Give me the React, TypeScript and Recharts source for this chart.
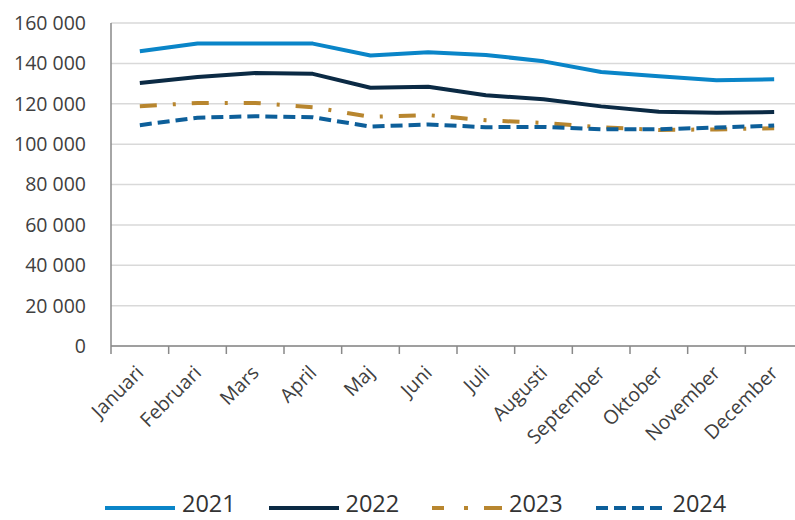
import React from 'react';
import { LineChart, Line, XAxis, YAxis, CartesianGrid, Legend } from 'recharts';

const months = ['Januari', 'Februari', 'Mars', 'April', 'Maj', 'Juni', 'Juli', 'Augusti', 'September', 'Oktober', 'November', 'December'];
const y2021 = [146000, 149800, 149800, 149800, 143900, 145500, 144200, 141000, 135700, 133600, 131700, 132100];
const y2022 = [130300, 133200, 135200, 134800, 127900, 128400, 124200, 122200, 118700, 116000, 115500, 115900];
const y2023 = [118800, 120400, 120400, 118300, 113500, 114400, 111800, 110500, 108400, 107000, 107300, 107900];
const y2024 = [109400, 113100, 113800, 113300, 108700, 109700, 108400, 108500, 107300, 107400, 108200, 109200];
const yTicks = [0, 20000, 40000, 60000, 80000, 100000, 120000, 140000, 160000];

const seriesNames = ['2021', '2022', '2023', '2024'];
const seriesColors = ['#0a85c8', '#0b2a44', '#b8862f', '#0d5f9a'];
const seriesDash = ['', '', '17 16 3 16', '12 6'];
const legendDash = ['', '', '12 20 4 16 18', '12 6'];

const data = months.map((m, i) => ({
  month: m,
  '2021': y2021[i],
  '2022': y2022[i],
  '2023': y2023[i],
  '2024': y2024[i],
}));

const fmt = (v: number) => String(v).replace(/\B(?=(\d{3})+(?!\d))/g, ' ');

const XTick = (props: any) => {
  const { x, y, payload } = props;
  const off = payload && payload.offset != null ? payload.offset : 0;
  const tx = x + 5;
  const ty = y + 28;
  return (
    <g>
      <line x1={x - off} x2={x - off} y1={y} y2={y + 8} stroke="#898989" strokeWidth={1.5} />
      <text
        x={tx}
        y={ty}
        textAnchor="end"
        fontSize={19.5}
        fill="#404040"
        fontFamily="'Open Sans', sans-serif"
        transform={`rotate(-45 ${tx} ${ty})`}
      >
        {payload.value}
      </text>
    </g>
  );
};

const LegendContent = () => (
  <div style={{ position: 'relative', height: 40, width: 795, fontFamily: "'Open Sans', sans-serif" }}>
    {seriesNames.map((name, i) => (
      <div
        key={name}
        style={{ position: 'absolute', left: 105 + i * 163.5, top: 0, height: 40, width: 160 }}
      >
        <svg width={72} height={40} style={{ position: 'absolute', left: 0, top: 0 }}>
          <line
            x1={0}
            x2={70}
            y1={28}
            y2={28}
            stroke={seriesColors[i]}
            strokeWidth={4}
            strokeDasharray={legendDash[i] || undefined}
          />
        </svg>
        <div
          style={{
            position: 'absolute',
            left: 77,
            top: 8,
            fontSize: 23.5,
            lineHeight: '31px',
            height: 31,
            color: '#333',
            whiteSpace: 'nowrap',
          }}
        >
          {name}
        </div>
      </div>
    ))}
  </div>
);

export default function App() {
  return (
    <div
      style={{
        position: 'absolute',
        left: 0,
        top: 0,
        width: 795,
        height: 520,
        overflow: 'hidden',
        background: '#fff',
        fontFamily: "'Open Sans', sans-serif",
      }}
    >
      <LineChart width={810} height={520} data={data} margin={{ top: 23, right: 7, bottom: 0, left: 0 }}>
        <CartesianGrid vertical={false} stroke="#d9d9d9" strokeWidth={1.5} />
        <XAxis
          dataKey="month"
          scale="band"
          height={134}
          stroke="#898989"
          strokeWidth={1.5}
          tickLine={false}
          tickSize={0}
          tickMargin={0}
          interval={0}
          tick={<XTick />}
        />
        <YAxis
          width={111}
          domain={[0, 160000]}
          ticks={yTicks}
          tickFormatter={fmt}
          stroke="#898989"
          strokeWidth={1.5}
          tickLine={false}
          tickSize={5}
          tickMargin={20}
          tick={{ fill: '#404040', fontSize: 19.5 }}
          interval={0}
        />
        <Legend verticalAlign="bottom" height={40} wrapperStyle={{ left: 0, bottom: 0, width: 795, height: 40 }} content={<LegendContent />} />
        {seriesNames.map((name, i) => (
          <Line
            key={name}
            dataKey={name}
            type="linear"
            stroke={seriesColors[i]}
            strokeWidth={4}
            strokeLinejoin="round"
            strokeDasharray={seriesDash[i] || undefined}
            dot={false}
            activeDot={false}
            isAnimationActive={false}
          />
        ))}
      </LineChart>
    </div>
  );
}
